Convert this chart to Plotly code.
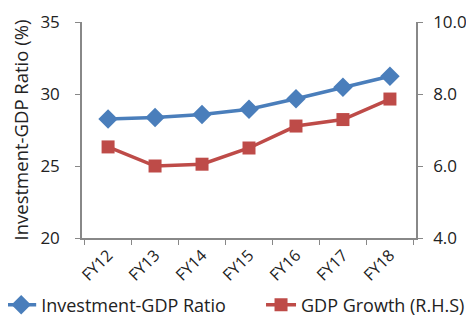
import plotly.graph_objects as go

categories = ["FY12", "FY13", "FY14", "FY15", "FY16", "FY17", "FY18"]
investment_gdp = [28.26, 28.37, 28.57, 28.94, 29.67, 30.47, 31.23]
gdp_growth = [6.53, 6.0, 6.05, 6.5, 7.11, 7.29, 7.86]

blue = "#4A7EBB"
red = "#BE4B48"
font = "Open Sans"

fig = go.Figure()
fig.add_trace(go.Scatter(x=categories, y=investment_gdp, name="Investment-GDP Ratio",
                         mode="lines+markers", line=dict(color=blue, width=3.5),
                         marker=dict(symbol="diamond", size=15, color=blue),
                         legend="legend"))
fig.add_trace(go.Scatter(x=categories, y=gdp_growth, name="GDP Growth (R.H.S)",
                         mode="lines+markers", line=dict(color=red, width=3.5),
                         marker=dict(symbol="square", size=13, color=red), yaxis="y2",
                         legend="legend2"))

legend_common = dict(orientation="h", y=-0.31, xanchor="left", yanchor="middle",
                     font=dict(size=18), itemwidth=30, bgcolor="rgba(0,0,0,0)")

fig.update_layout(
    width=466, height=309,
    margin=dict(l=74, r=58, t=14, b=79, autoexpand=False),
    plot_bgcolor="white", paper_bgcolor="white",
    font=dict(family=font, size=16, color="#222"),
    showlegend=True,
    legend=dict(x=-0.242, **legend_common),
    legend2=dict(x=0.536, **legend_common),
    xaxis=dict(showline=True, linecolor="#888", linewidth=1.5, ticks="outside",
               tickson="boundaries", tickcolor="#888", ticklen=5, tickangle=-45,
               showgrid=False, tickfont=dict(size=16), automargin=False),
    yaxis=dict(range=[20, 35], dtick=5, showline=True, linecolor="#888", linewidth=1.5,
               ticks="outside", tickcolor="#888", ticklen=5, showgrid=False,
               zeroline=False, tickfont=dict(size=17), automargin=False,
               ticklabelstandoff=12,
               title=dict(text="Investment-GDP Ratio (%)", font=dict(size=18.5), standoff=24)),
    yaxis2=dict(range=[4, 10], dtick=2, tickformat=".1f", overlaying="y", side="right",
                showline=True, linecolor="#888", linewidth=1.5, ticks="outside",
                tickcolor="#888", ticklen=5, showgrid=False, zeroline=False,
                tickfont=dict(size=17), automargin=False, ticklabelstandoff=7),
)

fig.write_html("out.html")
